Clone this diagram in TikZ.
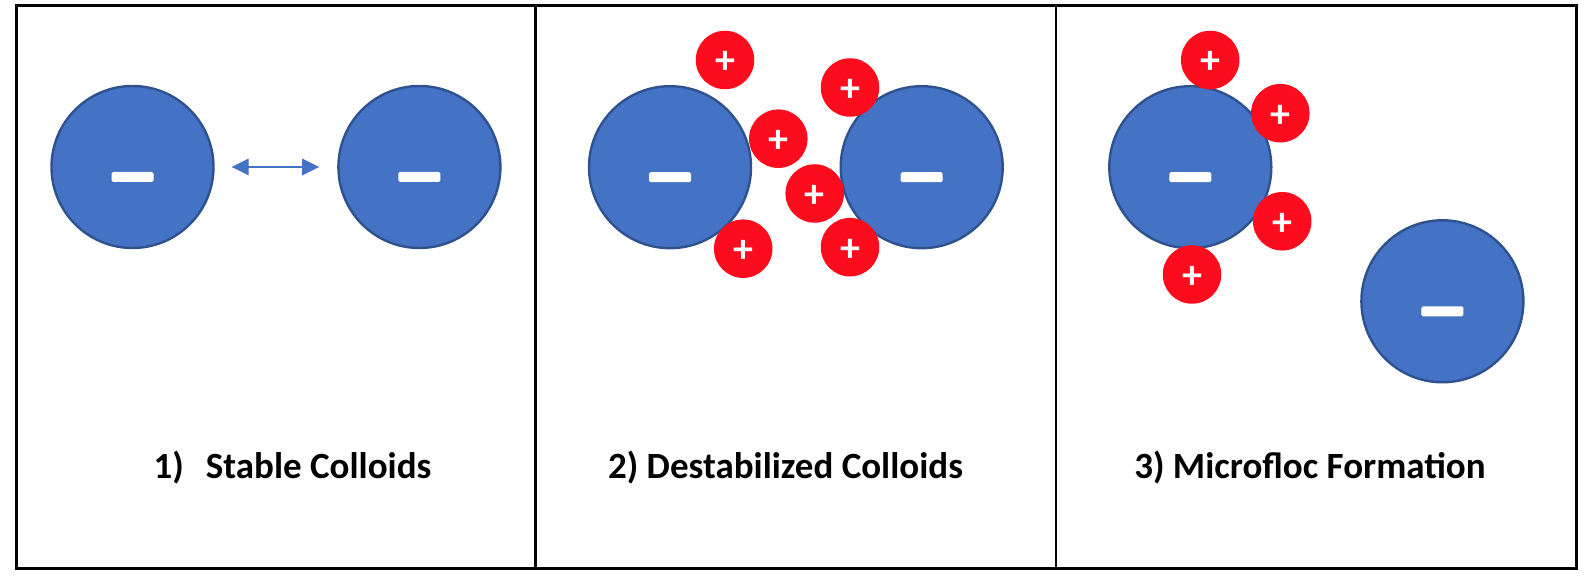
\documentclass[tikz,border=0pt]{standalone}
\usepackage{fontspec}
\setmainfont{Carlito}
\usepackage{tikz}
\definecolor{colloid_blue}{RGB}{68,114,196}
\definecolor{colloid_edge}{RGB}{47,82,143}
\definecolor{ion_red}{RGB}{252,12,28}
\tikzset{
  caption_font/.style = {font=\fontsize{18.5}{22}\selectfont\bfseries},
  sign_font/.style = {font=\fontsize{20}{20}\selectfont\bfseries},
  frame_line/.style = {line width=1.5pt, black}
}
\tikzset{
  colloid/.style = {circle, draw=colloid_edge, line width=1.2pt, fill=colloid_blue,
    minimum size=81pt, inner sep=0,
    path picture={\fill[white, rounded corners=0.8pt]
      ([xshift=-10.5pt, yshift=-7.5pt]path picture bounding box.center) rectangle ++(21pt, 5pt);}},
  cation/.style = {circle, fill=ion_red, minimum size=29.25pt, inner sep=0,
    text=white, sign_font, text height=14pt, text depth=0pt},
  caption/.style = {caption_font, anchor=base},
  repel/.style = {colloid_blue, line width=0.65pt, shorten <=8.5pt, shorten >=9pt,
    {Triangle[length=8.5pt, width=8.3pt]}-{Triangle[length=8.5pt, width=8.3pt]}}
}
\usetikzlibrary{arrows.meta}

\begin{document}
\begin{tikzpicture}[x=0.5pt, y=-0.5pt]
    \useasboundingbox (0,0) rectangle (1595,581);

    % Frame and panels
    \draw[frame_line] (16.7,5.5) rectangle (1576.5,569);
    \draw[frame_line] (535.7,5.5) -- (535.7,569);
    \draw[frame_line, line width=1.1pt] (1056,5.5) -- (1056,569);

    % Panel 1: stable colloids
    \node[colloid] (s_left) at (132.5,167) {};
    \node[colloid] (s_right) at (419.4,167) {};
    \draw[repel] (s_left) -- (s_right);

    % Panel 2: destabilized colloids
    \node[colloid] (d_left) at (670,167.2) {};
    \node[colloid] (d_right) at (921.7,167.2) {};
    \node[cation] (d_ion1) at (725,60) {+};
    \node[cation] (d_ion2) at (850,87.5) {+};
    \node[cation] (d_ion3) at (778.3,138.7) {+};
    \node[cation] (d_ion4) at (814.7,193.5) {+};
    \node[cation] (d_ion5) at (743.2,248.7) {+};
    \node[cation] (d_ion6) at (850,247.2) {+};

    % Panel 3: microfloc formation
    \node[colloid] (m_floc) at (1190.3,167.2) {};
    \node[colloid] (m_free) at (1442.4,301.3) {};
    \node[cation] (m_ion1) at (1210.2,60) {+};
    \node[cation] (m_ion2) at (1280.3,113.2) {+};
    \node[cation] (m_ion3) at (1282.2,221.3) {+};
    \node[cation] (m_ion4) at (1192,274.5) {+};

    % Captions
    \node[caption] (cap_1) at (292.5,479) {1)\hspace{11pt}Stable Colloids};
    \node[caption] (cap_2) at (785.5,479) {2) Destabilized Colloids};
    \node[caption] (cap_3) at (1310,479) {3) Microfloc Formation};
\end{tikzpicture}
\end{document}
